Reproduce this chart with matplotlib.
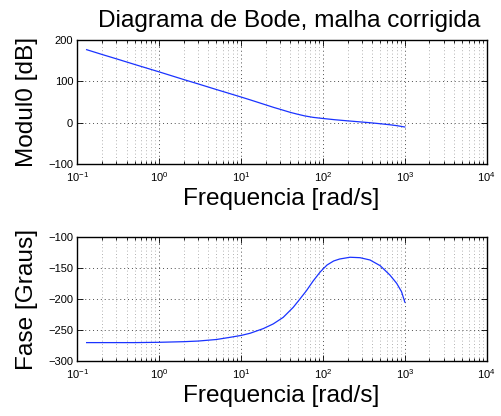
import matplotlib
matplotlib.use("Agg")
import matplotlib.pyplot as plt
from matplotlib.ticker import LogLocator, FixedLocator

plt.rcParams['font.family'] = ['Liberation Sans', 'DejaVu Sans']
plt.rcParams['mathtext.default'] = 'regular'
plt.rcParams['axes.unicode_minus'] = True

# ---- data ----
mag_freq = [0.13, 0.2, 0.3, 0.5, 1, 2, 3, 5, 7.35, 10, 13, 18.7, 25, 30.5,
            40, 48, 60, 76, 100, 140, 195, 280, 380, 500, 657, 800, 1000]
mag_db = [176, 164.5, 154, 140.5, 122.5, 104, 93.5, 80, 70, 62, 55, 45,
          37, 32, 25, 21, 16.5, 13, 10.3, 7.3, 4.8, 2.2, 0, -2.3,
          -4.8, -7, -10.2]

phase_freq = [0.13, 0.5, 1, 2, 3, 5, 7.35, 10, 12.9, 18.7, 24.7, 32.7, 43.3,
              52, 63, 76, 92.7, 112, 135, 160, 214, 284, 376, 500, 657, 795,
              912, 1000]
phase_deg = [-270, -270, -269.5, -268.5, -267.5, -265, -261.5, -258.5, -255,
             -247.5, -240, -229.5, -213.5, -200.5, -186.5, -171, -156.5,
             -145.5, -139, -135.8, -133, -133.7, -137.4, -146.5, -161.5,
             -174.8, -188.3, -205]

title = "Diagrama de Bode, malha corrigida"
xlabel = "Frequencia [rad/s]"
ylabel_mag = "Modul0 [dB]"
ylabel_phase = "Fase [Graus]"
mag_yticks = [-100, 0, 100, 200]
phase_yticks = [-300, -250, -200, -150, -100]

W, H = 502, 416
fig = plt.figure(figsize=(W / 100, H / 100), dpi=100)

def px_rect(x0, y0, x1, y1):
    return [x0 / W, 1 - y1 / H, (x1 - x0) / W, (y1 - y0) / H]

ax1 = fig.add_axes(px_rect(77.3, 39.7, 486.7, 164.3))
ax2 = fig.add_axes(px_rect(77.3, 236.7, 486.7, 361.3))

def style(ax, yticks):
    ax.set_xscale('log')
    ax.set_xlim(1e-1, 1e4)
    ax.set_ylim(yticks[0], yticks[-1])
    ax.yaxis.set_major_locator(FixedLocator(yticks))
    ax.xaxis.set_major_locator(LogLocator(base=10, numticks=10))
    ax.xaxis.set_minor_locator(LogLocator(base=10, subs=range(2, 10), numticks=20))
    ax.tick_params(which='both', direction='in', top=True, right=True,
                   labelsize=8, width=0.6, color='black')
    ax.tick_params(which='major', length=4, pad=3)
    ax.tick_params(which='minor', length=2)
    ax.tick_params(axis='x', which='major', pad=4)
    ax.grid(True, which='major', axis='both', linestyle=(0, (1, 3)),
            color='0.3', linewidth=0.7)
    ax.grid(True, which='minor', axis='x', linestyle=(0, (1, 3)),
            color='0.6', linewidth=0.6)
    for s in ax.spines.values():
        s.set_linewidth(1.0)
        s.set_color('black')

style(ax1, mag_yticks)
style(ax2, phase_yticks)

ax1.plot(mag_freq, mag_db, color='#1a33ff', linewidth=0.9)
ax2.plot(phase_freq, phase_deg, color='#1a33ff', linewidth=0.9)

fs = 17.6
fig.text(288.7 / W, 1 - 27.3 / H, title, fontsize=fs, ha='center', va='baseline')
fig.text(281.5 / W, 1 - 199 / H, xlabel, fontsize=fs, ha='center', va='center')
fig.text(281.5 / W, 1 - 396 / H, xlabel, fontsize=fs, ha='center', va='center')
fig.text(27 / W, 1 - 102 / H, ylabel_mag, fontsize=fs, ha='center', va='center', rotation=90)
fig.text(27 / W, 1 - 299 / H, ylabel_phase, fontsize=fs, ha='center', va='center', rotation=90)

fig.savefig('out.png', dpi=100)
